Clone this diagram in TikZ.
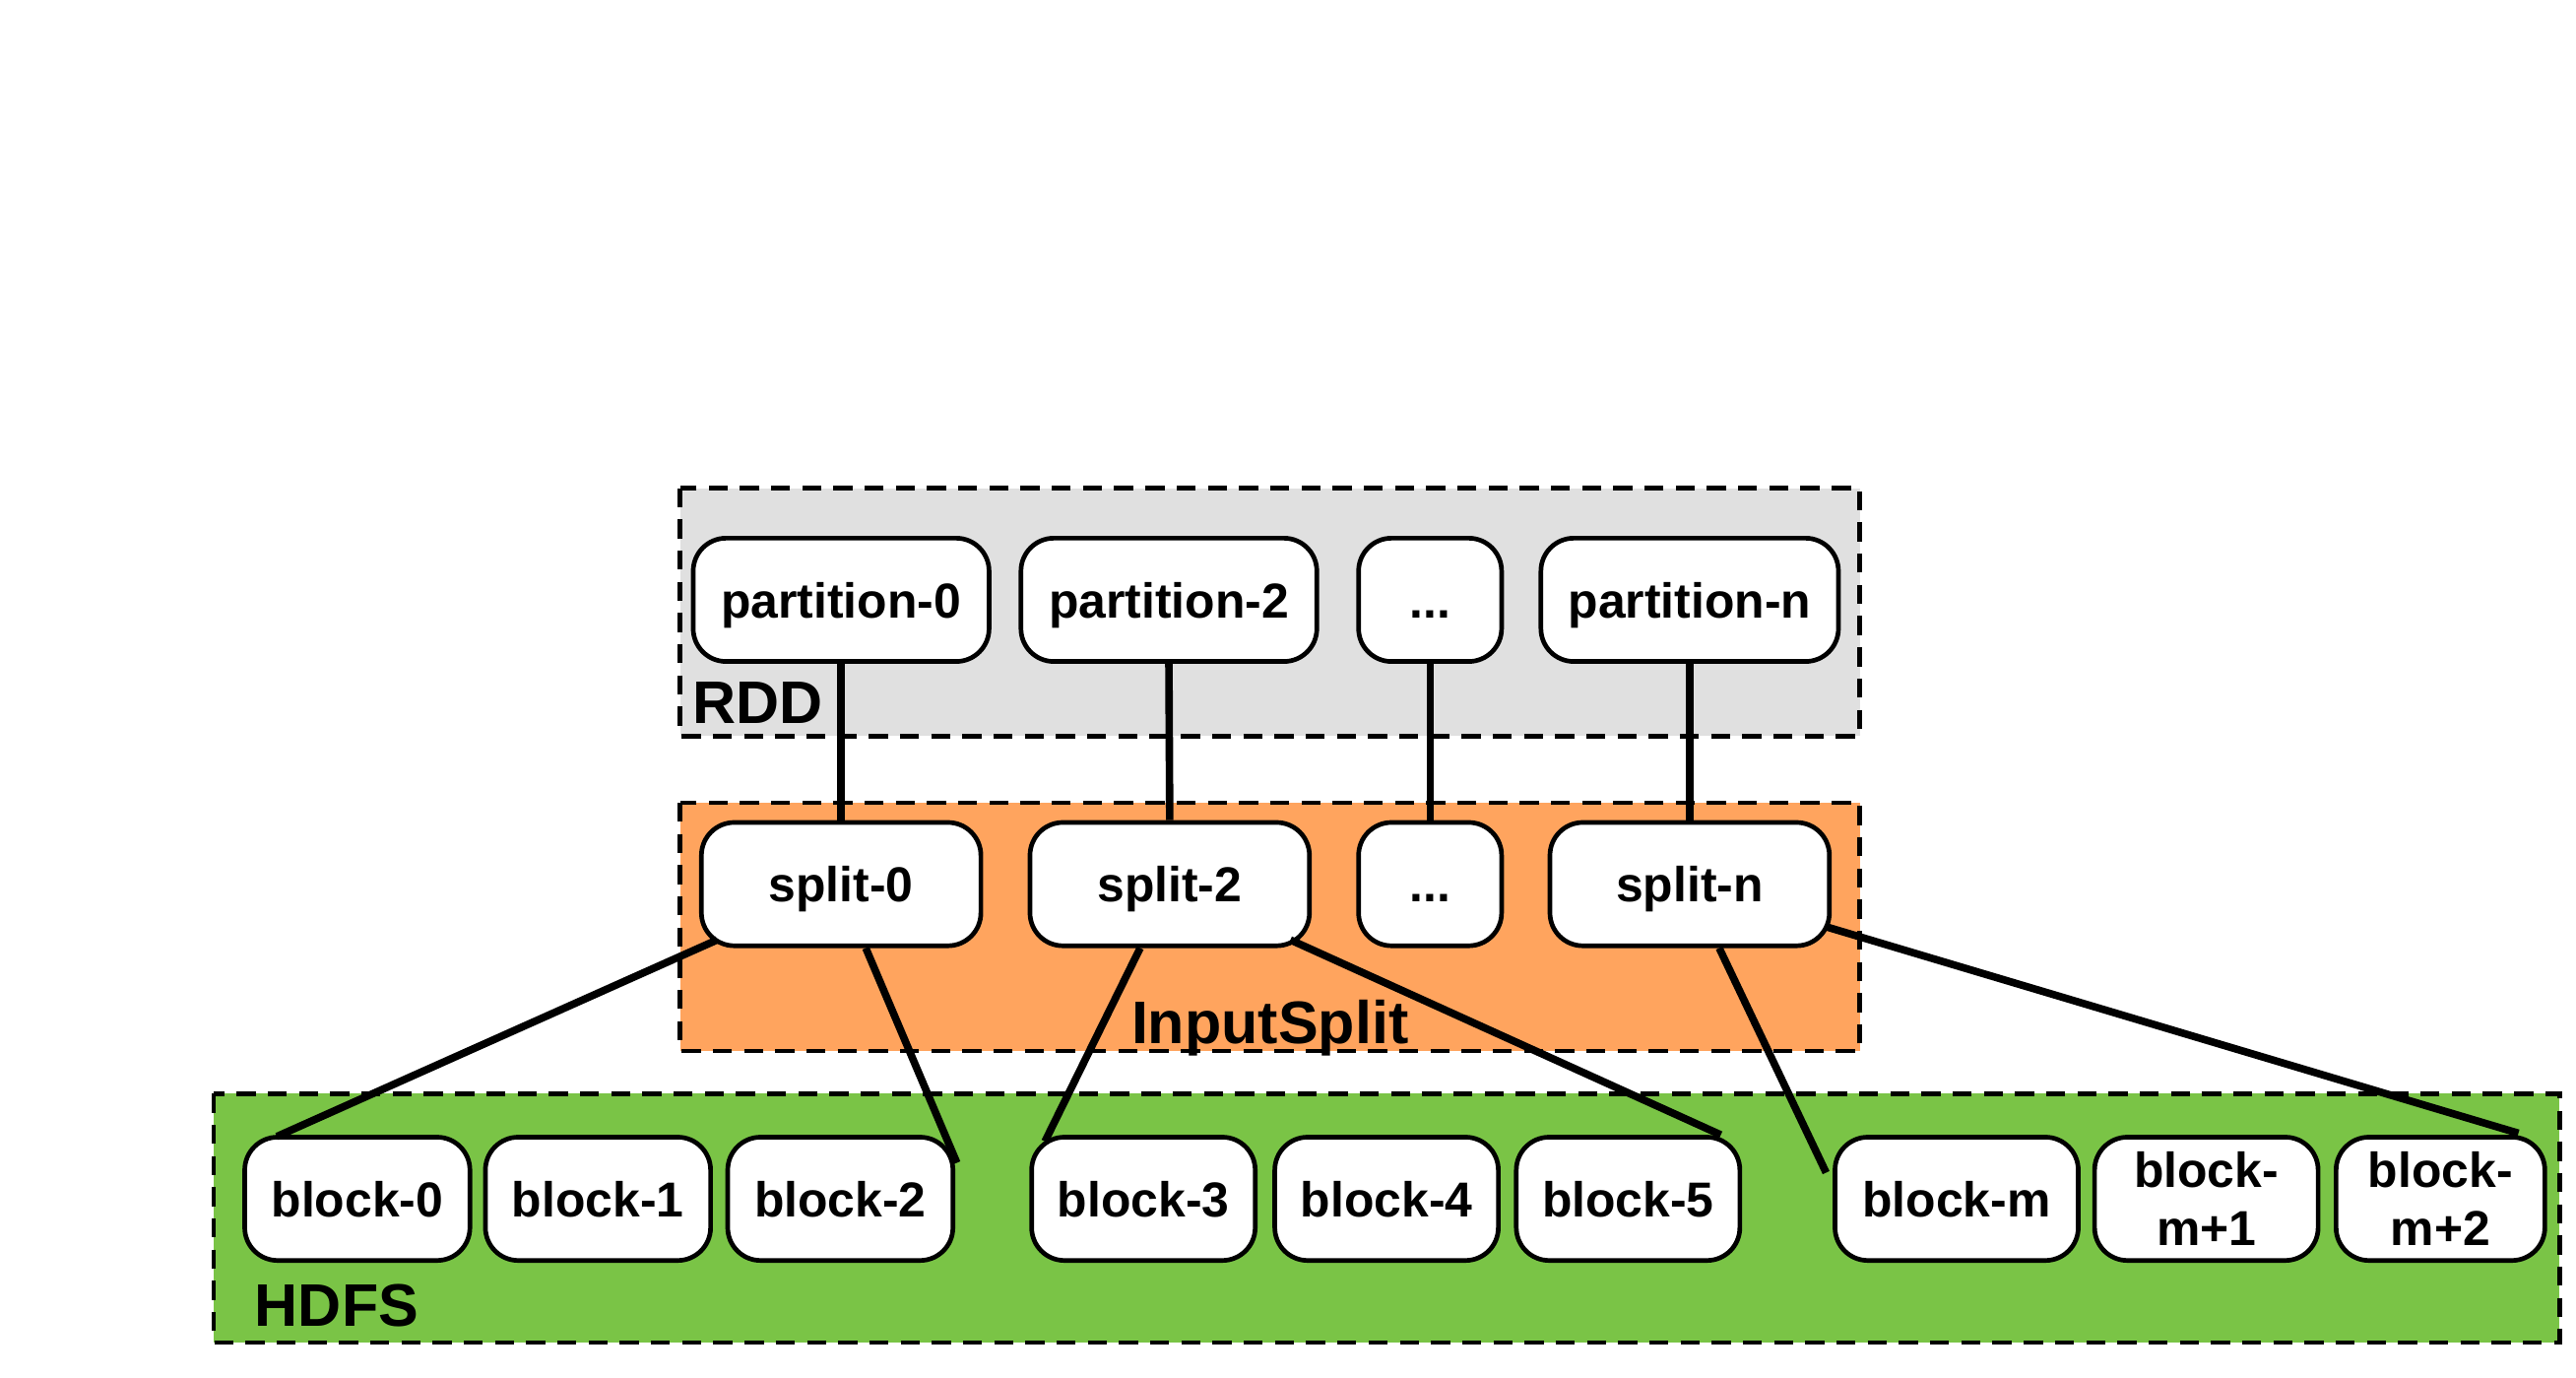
\documentclass[tikz,border=0pt]{standalone}
\usepackage{fontspec}
\setmainfont{Liberation Sans}
\usepackage{xcolor}
\definecolor{rddgray}{RGB}{224,224,224}
\definecolor{splitorange}{RGB}{255,164,94}
\definecolor{hdfsgreen}{RGB}{122,196,70}

\begin{document}
\begin{tikzpicture}[x=0.01cm,y=-0.01cm,
    layer/.style={draw,line width=0.8pt,dash pattern=on 3.3pt off 2.1pt},
    item/.style={draw,fill=white,line width=0.8pt,rounded corners=0.2cm,inner sep=0pt,
        minimum height=0.75cm,text depth=0pt,align=center,font=\fontsize{8.5}{10}\selectfont\bfseries},
    tag/.style={inner sep=0pt,font=\fontsize{10.4}{12}\selectfont\bfseries},
    link/.style={line width=1.3pt}]
        \useasboundingbox (0,0) rectangle (1568,838.5);
        % Layers
        \draw [layer,fill=rddgray] (414,297) rectangle (1132,448);
        \draw [layer,fill=splitorange] (414,488.5) rectangle (1132,639.5);
        \draw [layer,fill=hdfsgreen] (130,665.5) rectangle (1558,817);
        \node[tag,anchor=base west] (rddtag) at (421,440) {RDD};
        \node[tag,anchor=base] (splittag) at (773,635) {InputSplit};
        \node[tag,anchor=base west] (hdfstag) at (154.5,807) {HDFS};
        % RDD
        \node[item,minimum width=1.8cm] (p0) at (512,365) {partition-0};
        \node[item,minimum width=1.8cm] (p2) at (711.5,365) {partition-2};
        \node[item,minimum width=0.87cm,text height=6.2pt] (pd) at (870.5,365) {...};
        \node[item,minimum width=1.81cm] (pn) at (1028.5,365) {partition-n};
        % InputSplit
        \node[item,minimum width=1.7cm] (s0) at (512,538) {split-0};
        \node[item,minimum width=1.7cm] (s2) at (712,538) {split-2};
        \node[item,minimum width=0.87cm,text height=6.2pt] (sd) at (870.5,538) {...};
        \node[item,minimum width=1.7cm] (sn) at (1028.5,538) {split-n};
        % HDFS
        \node[item,minimum width=1.37cm] (b0) at (217.5,729.5) {block-0};
        \node[item,minimum width=1.37cm] (b1) at (364,729.5) {block-1};
        \node[item,minimum width=1.37cm] (b2) at (511.5,729.5) {block-2};
        \node[item,minimum width=1.36cm] (b3) at (696,729.5) {block-3};
        \node[item,minimum width=1.36cm] (b4) at (844,729.5) {block-4};
        \node[item,minimum width=1.36cm] (b5) at (991,729.5) {block-5};
        \node[item,minimum width=1.48cm] (bm) at (1191,729.5) {block-m};
        \node[item,minimum width=1.36cm] (bm1) at (1343,729.5) {block-\\m+1};
        \node[item,minimum width=1.27cm] (bm2) at (1485.5,729.5) {block-\\m+2};
        % Links
        \foreach \a/\b in {p0/s0,p2/s2,pd/sd,pn/sn}
            \draw[link] (\a.south) -- (\b.north);
        \draw[link] ([shift={(11,-5)}]s0.south west) -- ([shift={(21,1)}]b0.north west);
        \draw[link] ([shift={(15,0)}]s0.south) -- ([shift={(1,17)}]b2.north east);
        \draw[link] ([shift={(-18,0)}]s2.south) -- ([shift={(9.5,4)}]b3.north west);
        \draw[link] ([shift={(-13,-5)}]s2.south east) -- ([shift={(-13,0)}]b5.north east);
        \draw[link] ([shift={(18,0)}]sn.south) -- ([shift={(-4,23)}]bm.north west);
        \draw[link] ([shift={(-3.5,-13)}]sn.south east) -- ([shift={(-17.5,-1)}]bm2.north east);
\end{tikzpicture}
\end{document}
